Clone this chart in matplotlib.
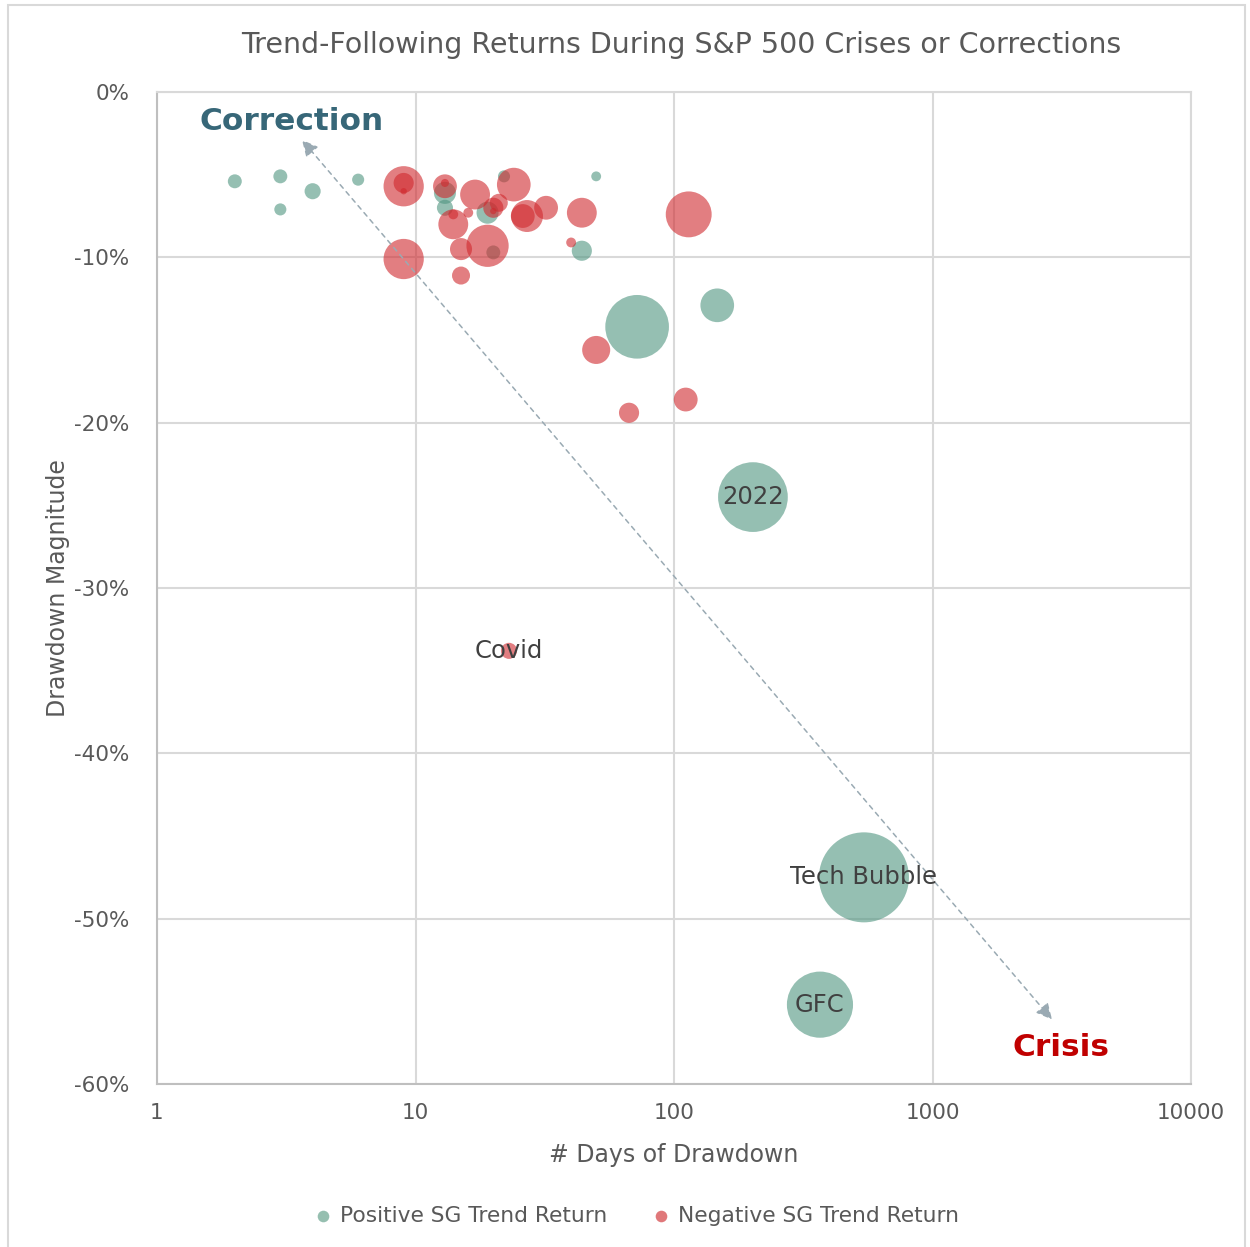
import numpy as np
import matplotlib.pyplot as plt

# positive SG trend return bubbles: days, drawdown %, bubble value
pos_days = [2, 3, 3, 4, 6, 13, 13, 19, 22, 20, 44, 50, 72, 147, 202, 543, 367]
pos_dd = [-5.4, -5.1, -7.1, -6.0, -5.3, -6.1, -7.0, -7.3, -5.1, -9.7, -9.6, -5.1, -14.2, -12.9, -24.5, -47.5, -55.2]
pos_val = [2.4, 2.4, 1.8, 3.2, 1.8, 6.0, 3.2, 6.0, 1.8, 2.4, 5.0, 1.2, 50, 14, 60, 100, 54]

# negative SG trend return bubbles
neg_days = [9, 9, 9, 9, 13, 13, 14, 14, 16, 15, 15, 17, 19, 21, 20, 20, 24, 27, 26, 32, 44, 40, 114, 50, 67, 111, 23]
neg_dd = [-5.7, -5.5, -6.0, -10.1, -5.7, -5.5, -8.0, -7.4, -7.3, -9.5, -11.1, -6.2, -9.3, -6.7, -7.0, -7.2, -5.6, -7.5, -7.5, -7.0, -7.3, -9.1, -7.4, -15.6, -19.4, -18.6, -33.8]
neg_val = [20, 5.0, 0.5, 20, 7.0, 0.8, 11, 1.2, 1.2, 6.0, 4.0, 11, 22, 4.0, 5.0, 0.5, 14, 12.6, 7.0, 7.0, 11, 1.2, 26, 9.7, 5.0, 7.0, 3.2]

labels = ["2022", "Covid", "Tech Bubble", "GFC"]
label_days = [202, 23, 543, 367]
label_dd = [-24.5, -33.8, -47.5, -55.2]

plt.rcParams['font.family'] = ['DejaVu Sans']

fig = plt.figure(figsize=(12.5, 12.47), dpi=100)
ax = fig.add_axes([0.1256, 0.1307, 0.8272, 0.7955])

# bubble value -> marker area (pt^2)
k = 42
ax.scatter(pos_days, pos_dd, s=np.array(pos_val) * k, color='#4f9580', alpha=0.6,
           linewidths=0, zorder=3)
ax.scatter(neg_days, neg_dd, s=np.array(neg_val) * k, color='#d0282d', alpha=0.6,
           linewidths=0, zorder=3)

for t, x, y in zip(labels, label_days, label_dd):
    ax.text(x, y, t, ha='center', va='center', fontsize=17.5, color='#404040', zorder=5)

ax.set_xscale('log')
ax.set_xlim(1, 10000)
ax.set_ylim(-60, 0)
ax.set_xticks([1, 10, 100, 1000, 10000])
ax.set_xticklabels(['1', '10', '100', '1000', '10000'])
ax.set_yticks(np.arange(-60, 1, 10))
ax.set_yticklabels([f'{v}%' for v in range(-60, 1, 10)])
ax.minorticks_off()
ax.tick_params(axis='y', length=0, labelsize=15.5, labelcolor='#595959', pad=20)
ax.tick_params(axis='x', length=0, labelsize=15.5, labelcolor='#595959', pad=14)
ax.grid(True, color='#d9d9d9', lw=1.5, zorder=0)
for s in ax.spines.values():
    s.set_color('#d9d9d9')
    s.set_linewidth(1.5)
ax.spines['left'].set_color('#bfbfbf')
ax.spines['bottom'].set_color('#bfbfbf')

ax.set_xlabel('# Days of Drawdown', fontsize=17, color='#595959', labelpad=14)
ax.set_ylabel('Drawdown Magnitude', fontsize=17, color='#595959', labelpad=3)
fig.text(0.545, 0.964, 'Trend-Following Returns During S&P 500 Crises or Corrections',
         ha='center', va='center', fontsize=20.5, color='#595959')

# correction -> crisis arrow
ax.annotate('', xy=(3.64, -2.9), xytext=(2900, -56.1),
            arrowprops=dict(arrowstyle='<|-|>', color='#9aaab3', lw=1.1,
                            linestyle=(0, (3, 3)), mutation_scale=24,
                            shrinkA=0, shrinkB=0), zorder=4)
ax.text(3.33, -1.8, 'Correction', ha='center', va='center', fontsize=22.5,
        fontweight='bold', color='#376778', zorder=5)
ax.text(3140, -57.8, 'Crisis', ha='center', va='center', fontsize=22.5,
        fontweight='bold', color='#c00000', zorder=5)

# legend
h1 = ax.scatter([], [], s=70, color='#96bfb0', linewidths=0)
h2 = ax.scatter([], [], s=70, color='#e0787a', linewidths=0)
fig.legend([h1, h2], ['Positive SG Trend Return', 'Negative SG Trend Return'],
           loc='center', bbox_to_anchor=(0.504, 0.025), ncol=2, frameon=False,
           fontsize=15.7, handletextpad=-0.2, columnspacing=1.45, labelcolor='#595959')

# outer border
fig.patches.append(plt.Rectangle((0.006, -0.01), 0.99, 1.006, transform=fig.transFigure,
                                 fill=False, edgecolor='#d9d9d9', lw=1.5))

fig.savefig('out.png', dpi=100)
